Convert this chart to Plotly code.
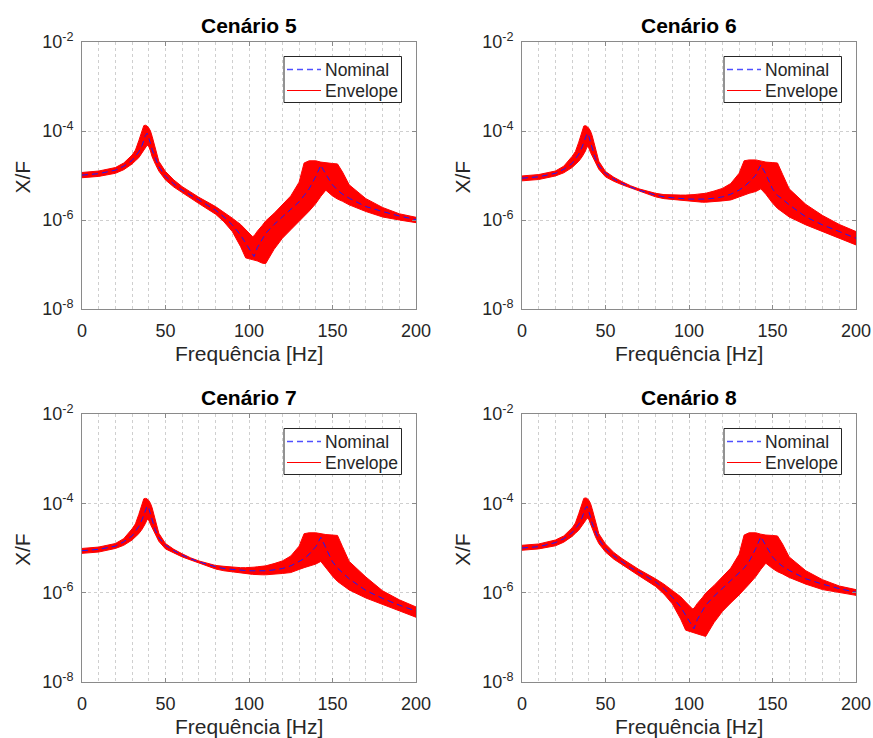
import plotly.graph_objects as go

# ---------------- data ----------------
freq = [0, 10, 20, 25, 30, 32, 34, 36, 37, 38, 39, 40, 41, 42, 44, 46, 50, 55, 60, 65,
        70, 80, 85, 90, 95, 98, 100, 102, 103, 105, 108, 110, 115, 120, 125, 130, 133, 136,
        140, 143, 146, 150, 153, 156, 160, 170, 180, 190, 200]

# Cenário 5
nominal_5 = [1.02e-5, 1.10e-5, 1.32e-5, 1.62e-5, 2.19e-5, 2.69e-5, 3.39e-5, 4.79e-5, 6.03e-5, 7.94e-5,
             8.91e-5, 7.08e-5, 5.25e-5, 3.80e-5, 2.34e-5, 1.58e-5, 9.55e-6, 6.46e-6, 4.68e-6, 3.55e-6,
             2.82e-6, 1.66e-6, 1.17e-6, 7.76e-7, 4.57e-7, 3.02e-7, 2.24e-7, 1.66e-7, 1.51e-7, 2.40e-7,
             3.80e-7, 5.01e-7, 7.94e-7, 1.17e-6, 1.70e-6, 2.57e-6, 3.55e-6, 5.01e-6, 9.55e-6, 1.70e-5,
             1.07e-5, 6.17e-6, 4.68e-6, 3.80e-6, 3.09e-6, 2.00e-6, 1.55e-6, 1.23e-6, 1.02e-6]
upper_5 = [1.17e-5, 1.26e-5, 1.51e-5, 1.91e-5, 2.88e-5, 3.72e-5, 6.03e-5, 1.07e-4, 1.32e-4, 1.35e-4,
           1.29e-4, 1.17e-4, 1.00e-4, 7.59e-5, 3.98e-5, 2.09e-5, 1.23e-5, 7.94e-6, 5.62e-6, 4.17e-6,
           3.24e-6, 2.00e-6, 1.51e-6, 1.10e-6, 7.94e-7, 6.03e-7, 5.01e-7, 4.27e-7, 4.37e-7, 5.62e-7,
           7.59e-7, 9.55e-7, 1.41e-6, 2.19e-6, 3.47e-6, 7.08e-6, 1.91e-5, 2.14e-5, 2.14e-5, 2.00e-5,
           1.91e-5, 1.86e-5, 1.82e-5, 1.20e-5, 6.17e-6, 3.02e-6, 1.91e-6, 1.38e-6, 1.15e-6]
lower_5 = [8.91e-6, 9.55e-6, 1.12e-5, 1.35e-5, 1.82e-5, 2.14e-5, 2.51e-5, 3.16e-5, 3.55e-5, 4.17e-5,
           4.79e-5, 4.47e-5, 3.55e-5, 2.63e-5, 1.78e-5, 1.26e-5, 7.94e-6, 5.50e-6, 4.07e-6, 3.09e-6,
           2.34e-6, 1.35e-6, 9.12e-7, 5.50e-7, 2.51e-7, 1.41e-7, 1.32e-7, 1.26e-7, 1.26e-7, 1.20e-7,
           1.07e-7, 1.05e-7, 2.19e-7, 3.89e-7, 6.03e-7, 9.12e-7, 1.20e-6, 1.58e-6, 2.34e-6, 3.39e-6,
           4.68e-6, 3.47e-6, 2.95e-6, 2.63e-6, 2.19e-6, 1.55e-6, 1.17e-6, 1.00e-6, 8.71e-7]

# Cenário 6
nominal_6 = [8.71e-6, 9.33e-6, 1.12e-5, 1.38e-5, 1.86e-5, 2.34e-5, 3.02e-5, 4.37e-5, 5.37e-5, 7.08e-5,
             8.91e-5, 7.59e-5, 5.62e-5, 3.98e-5, 2.34e-5, 1.66e-5, 1.12e-5, 8.32e-6, 6.61e-6, 5.50e-6,
             4.68e-6, 3.63e-6, 3.31e-6, 3.16e-6, 3.02e-6, 2.95e-6, 2.95e-6, 2.95e-6, 2.95e-6, 2.95e-6,
             2.95e-6, 2.95e-6, 3.09e-6, 3.31e-6, 3.80e-6, 4.68e-6, 5.62e-6, 7.08e-6, 1.02e-5, 1.74e-5,
             1.07e-5, 5.01e-6, 3.55e-6, 2.95e-6, 2.19e-6, 1.17e-6, 7.76e-7, 5.50e-7, 3.89e-7]
upper_6 = [9.77e-6, 1.05e-5, 1.26e-5, 1.62e-5, 2.69e-5, 3.47e-5, 5.62e-5, 1.02e-4, 1.29e-4, 1.32e-4,
           1.26e-4, 1.15e-4, 1.00e-4, 7.94e-5, 3.98e-5, 2.09e-5, 1.23e-5, 9.12e-6, 7.24e-6, 5.89e-6,
           5.01e-6, 3.98e-6, 3.72e-6, 3.63e-6, 3.63e-6, 3.63e-6, 3.63e-6, 3.72e-6, 3.72e-6, 3.80e-6,
           3.89e-6, 3.98e-6, 4.47e-6, 5.13e-6, 6.61e-6, 1.12e-5, 2.14e-5, 2.24e-5, 2.24e-5, 2.09e-5,
           2.00e-5, 1.95e-5, 1.91e-5, 1.07e-5, 5.01e-6, 2.24e-6, 1.26e-6, 7.94e-7, 5.50e-7]
lower_6 = [7.59e-6, 8.13e-6, 9.77e-6, 1.15e-5, 1.51e-5, 1.78e-5, 2.09e-5, 2.63e-5, 3.02e-5, 3.55e-5,
           4.47e-5, 4.17e-5, 3.31e-5, 2.63e-5, 1.95e-5, 1.38e-5, 9.33e-6, 7.41e-6, 6.17e-6, 5.13e-6,
           4.47e-6, 3.31e-6, 3.02e-6, 2.88e-6, 2.75e-6, 2.69e-6, 2.69e-6, 2.63e-6, 2.63e-6, 2.57e-6,
           2.51e-6, 2.51e-6, 2.57e-6, 2.69e-6, 2.82e-6, 3.31e-6, 3.63e-6, 3.98e-6, 4.37e-6, 5.01e-6,
           3.80e-6, 2.40e-6, 1.82e-6, 1.51e-6, 1.17e-6, 7.76e-7, 5.50e-7, 3.89e-7, 2.75e-7]

# Cenário 7
nominal_7 = [8.71e-6, 9.33e-6, 1.10e-5, 1.38e-5, 1.86e-5, 2.34e-5, 3.02e-5, 4.37e-5, 5.37e-5, 7.08e-5,
             8.71e-5, 7.59e-5, 5.75e-5, 4.17e-5, 2.45e-5, 1.70e-5, 1.15e-5, 8.71e-6, 6.92e-6, 5.75e-6,
             4.90e-6, 3.80e-6, 3.47e-6, 3.31e-6, 3.16e-6, 3.09e-6, 3.09e-6, 3.09e-6, 3.09e-6, 3.09e-6,
             3.09e-6, 3.09e-6, 3.24e-6, 3.47e-6, 3.98e-6, 4.90e-6, 5.75e-6, 7.24e-6, 1.07e-5, 1.74e-5,
             1.02e-5, 4.90e-6, 3.55e-6, 2.82e-6, 2.04e-6, 1.12e-6, 7.41e-7, 5.25e-7, 3.89e-7]
upper_7 = [9.77e-6, 1.05e-5, 1.26e-5, 1.62e-5, 2.69e-5, 3.47e-5, 5.62e-5, 1.00e-4, 1.26e-4, 1.29e-4,
           1.26e-4, 1.15e-4, 1.00e-4, 7.94e-5, 3.98e-5, 2.14e-5, 1.26e-5, 9.33e-6, 7.41e-6, 6.03e-6,
           5.13e-6, 4.07e-6, 3.89e-6, 3.72e-6, 3.63e-6, 3.63e-6, 3.63e-6, 3.72e-6, 3.72e-6, 3.80e-6,
           3.89e-6, 3.98e-6, 4.47e-6, 5.13e-6, 6.61e-6, 1.10e-5, 2.09e-5, 2.19e-5, 2.19e-5, 2.09e-5,
           2.00e-5, 1.95e-5, 1.91e-5, 1.07e-5, 5.01e-6, 2.24e-6, 1.10e-6, 6.92e-7, 4.79e-7]
lower_7 = [7.59e-6, 8.13e-6, 9.77e-6, 1.15e-5, 1.51e-5, 1.78e-5, 2.09e-5, 2.63e-5, 3.02e-5, 3.55e-5,
           4.37e-5, 4.17e-5, 3.39e-5, 2.63e-5, 2.00e-5, 1.41e-5, 9.55e-6, 7.76e-6, 6.31e-6, 5.37e-6,
           4.57e-6, 3.39e-6, 3.09e-6, 2.88e-6, 2.75e-6, 2.69e-6, 2.63e-6, 2.57e-6, 2.57e-6, 2.51e-6,
           2.51e-6, 2.51e-6, 2.57e-6, 2.69e-6, 2.82e-6, 3.31e-6, 3.63e-6, 3.98e-6, 4.37e-6, 5.01e-6,
           3.72e-6, 2.34e-6, 1.78e-6, 1.48e-6, 1.15e-6, 7.59e-7, 5.37e-7, 3.89e-7, 2.82e-7]

# Cenário 8
nominal_8 = [1.00e-5, 1.07e-5, 1.32e-5, 1.62e-5, 2.19e-5, 2.69e-5, 3.39e-5, 4.79e-5, 6.31e-5, 7.94e-5,
             8.51e-5, 6.76e-5, 5.01e-5, 3.55e-5, 2.29e-5, 1.58e-5, 9.77e-6, 6.61e-6, 4.90e-6, 3.63e-6,
             2.88e-6, 1.74e-6, 1.23e-6, 7.94e-7, 4.79e-7, 3.16e-7, 2.40e-7, 1.74e-7, 1.55e-7, 2.51e-7,
             3.98e-7, 5.25e-7, 8.32e-7, 1.23e-6, 1.82e-6, 2.69e-6, 3.55e-6, 5.01e-6, 9.77e-6, 1.78e-5,
             1.12e-5, 6.31e-6, 4.79e-6, 3.89e-6, 3.16e-6, 2.04e-6, 1.55e-6, 1.23e-6, 1.02e-6]
upper_8 = [1.15e-5, 1.23e-5, 1.51e-5, 1.86e-5, 2.82e-5, 3.63e-5, 5.89e-5, 1.05e-4, 1.29e-4, 1.32e-4,
           1.29e-4, 1.17e-4, 1.00e-4, 7.59e-5, 3.98e-5, 2.09e-5, 1.23e-5, 7.94e-6, 5.75e-6, 4.27e-6,
           3.31e-6, 2.04e-6, 1.55e-6, 1.12e-6, 8.13e-7, 6.17e-7, 5.13e-7, 4.37e-7, 4.47e-7, 5.75e-7,
           7.76e-7, 9.77e-7, 1.45e-6, 2.24e-6, 3.55e-6, 7.24e-6, 1.95e-5, 2.19e-5, 2.19e-5, 2.04e-5,
           1.95e-5, 1.91e-5, 1.86e-5, 1.23e-5, 6.31e-6, 3.09e-6, 1.95e-6, 1.41e-6, 1.17e-6]
lower_8 = [8.91e-6, 9.55e-6, 1.12e-5, 1.35e-5, 1.82e-5, 2.14e-5, 2.51e-5, 3.16e-5, 3.55e-5, 4.07e-5,
           4.68e-5, 4.37e-5, 3.47e-5, 2.63e-5, 1.78e-5, 1.26e-5, 8.13e-6, 5.62e-6, 4.17e-6, 3.16e-6,
           2.40e-6, 1.38e-6, 9.33e-7, 5.62e-7, 2.57e-7, 1.45e-7, 1.35e-7, 1.29e-7, 1.26e-7, 1.20e-7,
           1.10e-7, 1.05e-7, 2.14e-7, 3.80e-7, 5.89e-7, 8.91e-7, 1.17e-6, 1.55e-6, 2.29e-6, 3.31e-6,
           4.57e-6, 3.47e-6, 2.95e-6, 2.63e-6, 2.19e-6, 1.55e-6, 1.17e-6, 1.00e-6, 8.71e-7]

titles = ["Cenário 5", "Cenário 6", "Cenário 7", "Cenário 8"]
legend_labels = ["Nominal", "Envelope"]
nominals = [nominal_5, nominal_6, nominal_7, nominal_8]
uppers = [upper_5, upper_6, upper_7, upper_8]
lowers = [lower_5, lower_6, lower_7, lower_8]

for arr in nominals + uppers + lowers:
    assert len(arr) == len(freq), len(arr)

x_ticks = [0, 50, 100, 150, 200]
y_tickvals = [1e-8, 1e-6, 1e-4, 1e-2]
y_ticktext = ["10<sup>-8</sup>", "10<sup>-6</sup>", "10<sup>-4</sup>", "10<sup>-2</sup>"]

# ---------------- layout geometry ----------------
W, H = 873, 738
FONT = "Liberation Sans, Arial, Helvetica, sans-serif"
TXT = "#262626"
AXC = "#8a8a8a"
GRIDC = "#cfcfcf"
BLUE = "#1a1aff"
LEG_BLUE = "#5050ff"
RED = "#ff0000"

# plot areas in pixels (left, right, top, bottom)
boxes = [(82, 416, 42, 309), (522, 856, 42, 309), (82, 416, 414, 682), (522, 856, 414, 682)]


def px(xp):
    return xp / W


def py(yp):
    return 1 - yp / H


fig = go.Figure()
annotations = []
shapes = []
for i in range(4):
    sfx = "" if i == 0 else str(i + 1)
    xa, ya = "x" + sfx, "y" + sfx
    f = list(freq)
    up, lo, nom = uppers[i], lowers[i], nominals[i]

    fig.add_trace(go.Scatter(
        x=f + f[::-1], y=list(up) + list(lo)[::-1], mode="lines", fill="toself",
        fillcolor=RED, line=dict(color=RED, width=1), name=legend_labels[1],
        showlegend=False, hoverinfo="skip", xaxis=xa, yaxis=ya))
    fig.add_trace(go.Scatter(
        x=f, y=nom, mode="lines", name=legend_labels[0],
        line=dict(color=BLUE, width=1, dash="6px,4px"),
        showlegend=False, xaxis=xa, yaxis=ya))

    l, r, t, b = boxes[i]
    xdom = [px(l), px(r)]
    ydom = [py(b), py(t)]
    common = dict(showline=True, linecolor=AXC, linewidth=1, mirror="ticks",
                  ticks="inside", ticklen=4, tickcolor=AXC, zeroline=False, automargin=False,
                  tickfont=dict(family=FONT, size=18, color=TXT),
                  showgrid=True, gridcolor=GRIDC, griddash="dot", gridwidth=1)
    fig.layout["xaxis" + sfx] = dict(
        common, domain=xdom, anchor=ya, range=[0, 200], tickmode="array",
        tickvals=x_ticks, ticklabelstandoff=5,
        minor=dict(dtick=10, tick0=0, showgrid=True, gridcolor=GRIDC, griddash="dot", ticks=""))
    fig.layout["yaxis" + sfx] = dict(
        common, domain=ydom, anchor=xa, type="log", range=[-8, -2], tickmode="array",
        tickvals=y_tickvals, ticktext=y_ticktext, ticklabelstandoff=4)

    cx = (l + r) / 2
    annotations.append(dict(text="<b>" + titles[i] + "</b>", x=px(cx), y=py(t - 17),
                            xref="paper", yref="paper", xanchor="center", yanchor="middle",
                            showarrow=False, font=dict(family=FONT, size=21, color="#000000")))
    annotations.append(dict(text="Frequência [Hz]", x=px(cx), y=py(b + 44),
                            xref="paper", yref="paper", xanchor="center", yanchor="middle",
                            showarrow=False, font=dict(family=FONT, size=21, color=TXT)))
    annotations.append(dict(text="X/F", x=px(l - 60), y=py((t + b) / 2 + 2),
                            xref="paper", yref="paper", xanchor="center", yanchor="middle",
                            textangle=-90, showarrow=False,
                            font=dict(family=FONT, size=21, color=TXT)))

    # legend box (drawn like MATLAB's legend)
    lx0, lx1 = l + 202, l + 319.5
    ly0, ly1 = t + 14.5, t + 60.5
    shapes.append(dict(type="rect", xref="paper", yref="paper",
                       x0=px(lx0), x1=px(lx1), y0=py(ly1), y1=py(ly0),
                       fillcolor="#ffffff", line=dict(color="#262626", width=1), layer="above"))
    rows = [t + 27.5, t + 48.5]
    styles = [dict(color=LEG_BLUE, width=1.5, dash="6px,4px"), dict(color=RED, width=1)]
    for k in range(2):
        shapes.append(dict(type="line", xref="paper", yref="paper",
                           x0=px(l + 205), x1=px(l + 239), y0=py(rows[k]), y1=py(rows[k]),
                           line=styles[k], layer="above"))
        annotations.append(dict(text=legend_labels[k], x=px(l + 240.5), y=py(rows[k] + 0.5),
                                xref="paper", yref="paper", xanchor="left", yanchor="middle",
                                showarrow=False, font=dict(family=FONT, size=17.5, color=TXT)))

fig.update_layout(width=W, height=H, margin=dict(l=0, r=0, t=0, b=0),
                  paper_bgcolor="#ffffff", plot_bgcolor="#ffffff",
                  annotations=annotations, shapes=shapes, showlegend=False)

fig.write_html("out.html")
